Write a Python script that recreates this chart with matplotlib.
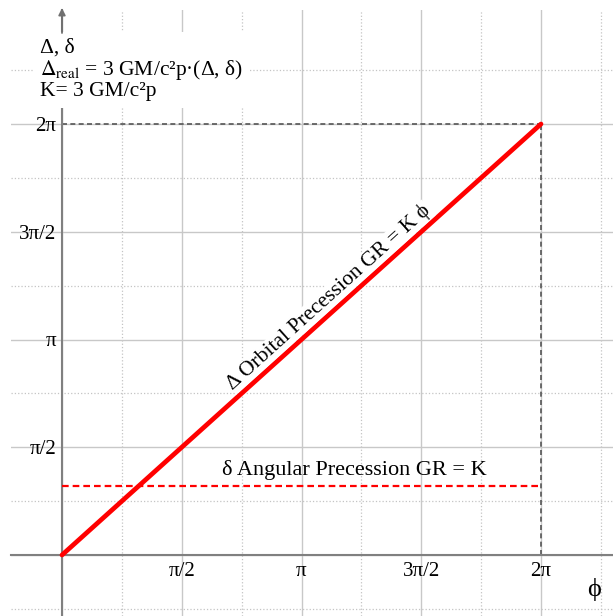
import numpy as np
import matplotlib
matplotlib.use("Agg")
import matplotlib.pyplot as plt

plt.rcParams["font.family"] = ["Liberation Serif", "DejaVu Serif"]
plt.rcParams["mathtext.fontset"] = "stix"

# -----------------------------
# Données
# -----------------------------
K = 1.0                                   # 3 GM/c^2 p (unité arbitraire)
phi_line = [0, 2 * np.pi]                 # Δ = K φ
delta_orbital = [0, 2 * np.pi]
phi_angular = [0, 2 * np.pi]              # δ = K
delta_angular = [K, K]

major_ticks = [0, np.pi / 2, np.pi, 3 * np.pi / 2, 2 * np.pi]
x_labels = ["", "π/2", "π", "3π/2", "2π"]
y_labels = ["", "π/2", "π", "3π/2", "2π"]
x_minor = [np.pi / 4, 3 * np.pi / 4, 5 * np.pi / 4, 7 * np.pi / 4, 9 * np.pi / 4]
y_minor = [-np.pi / 4, np.pi / 4, 3 * np.pi / 4, 5 * np.pi / 4, 7 * np.pi / 4, 9 * np.pi / 4]

# -----------------------------
# Figure
# -----------------------------
W, H = 613, 616
fig = plt.figure(figsize=(W / 100, H / 100), dpi=100)
ax = fig.add_axes([11 / W, 0, (W - 11) / W, (H - 10) / H])

sx = 479 / (2 * np.pi)   # px par unité
sy = 431 / (2 * np.pi)
ax.set_xlim(-(62 - 11) / sx, (W - 62) / sx)
ax.set_ylim(-(H - 555) / sy, (555 - 10) / sy)

ax.set_xticks(major_ticks)
ax.set_xticklabels(x_labels)
ax.set_yticks(major_ticks)
ax.set_yticklabels(y_labels)
ax.set_xticks(x_minor, minor=True)
ax.set_yticks(y_minor, minor=True)
ax.tick_params(which="both", length=0)
ax.tick_params(axis="x", pad=5, labelsize=15)
ax.tick_params(axis="y", pad=4, labelsize=15)

ax.grid(which="major", color="#c8c8c8", lw=1.0, ls="-")
ax.grid(which="minor", color="#c4c4c4", lw=0.9, ls=":")
ax.set_axisbelow(True)

for s in ["top", "right"]:
    ax.spines[s].set_visible(False)
ax.spines["left"].set_position(("data", 0))
ax.spines["bottom"].set_position(("data", 0))
for s in ["left", "bottom"]:
    ax.spines[s].set_color("#808080")
    ax.spines[s].set_linewidth(1.5)

# repères 2π
ax.plot([2 * np.pi, 2 * np.pi], [0, 2 * np.pi], color="#555555", lw=1.2, ls=(0, (3, 2)), zorder=2)
ax.plot([0, 2 * np.pi], [2 * np.pi, 2 * np.pi], color="#555555", lw=1.2, ls=(0, (3, 2)), zorder=2)

# courbes
ax.plot(phi_angular, delta_angular, color="red", lw=1.6, ls=(0, (3, 1.8)), zorder=3)
ax.plot(phi_line, delta_orbital, color="red", lw=3.4, solid_capstyle="round", zorder=4)

# textes
ax.text(3.50, 3.76, "Δ Orbital Precession GR = K ϕ", rotation=45,
        transform_rotates_text=True, rotation_mode="anchor",
        ha="center", va="center", fontsize=15.5,
        bbox=dict(facecolor="white", edgecolor="none", pad=0.5), zorder=5)
ax.text(3.84, 1.17, "δ Angular Precession GR = K", ha="center", va="baseline",
        fontsize=16, zorder=5)

ax.text(6.98, -0.50, "ϕ", ha="center", va="center", fontsize=19)

ax.text(-0.29, (555 - 70) / sy,
        "Δ, δ\n$\\Delta_{\\mathrm{real}}$ = 3 GM/c²p·(Δ, δ)\nK= 3 GM/c²p",
        ha="left", va="center", fontsize=15.5, linespacing=1.0,
        bbox=dict(facecolor="white", edgecolor="none", pad=5), zorder=5)

# flèche de l'axe vertical
ax.annotate("", xy=(0, (555 - 8) / sy), xytext=(0, (555 - 33) / sy),
            arrowprops=dict(arrowstyle="-|>", color="#707070", lw=1.3,
                            mutation_scale=10, shrinkA=0, shrinkB=0),
            annotation_clip=False, zorder=6)

fig.savefig("out.png", dpi=100)
